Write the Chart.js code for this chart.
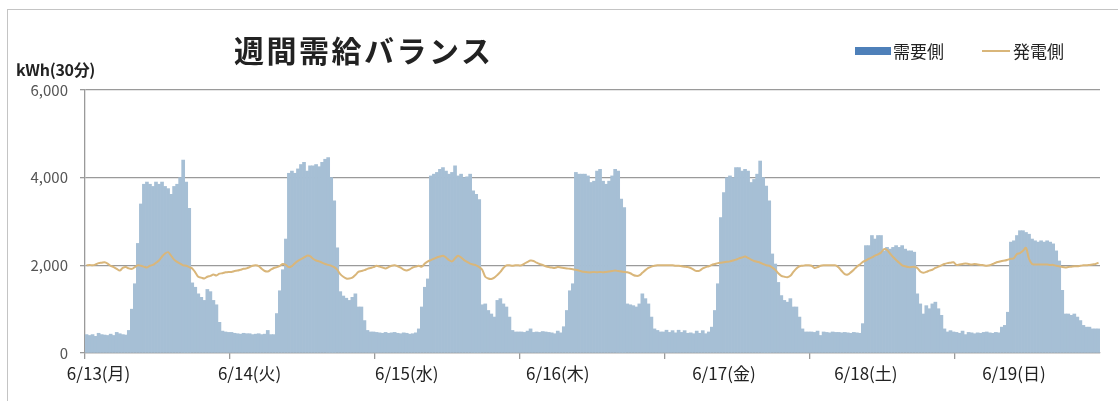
<!DOCTYPE html>
<html lang="ja">
<head>
  <meta charset="UTF-8">
  <title>週間需給バランス</title>
  <script src="https://cdn.jsdelivr.net/npm/chart.js"></script>
  <style>
    html, body { margin: 0; padding: 0; background: #fff; }
    #wrap { position: relative; width: 1118px; height: 401px; overflow: hidden; font-family: 'Noto Sans CJK JP', sans-serif; color: #222; }
    #frame { position: absolute; left: 7px; top: 9px; width: 1130px; height: 420px; border-top: 1px solid #c4c4c4; border-left: 1px solid #c4c4c4; }
    #title { position: absolute; left: 234px; top: 29px; font-size: 30px; font-weight: bold; letter-spacing: 2.5px; line-height: 40px; }
    #unit { position: absolute; left: 16px; top: 59px; font-size: 16px; font-weight: bold; line-height: 20px; letter-spacing: -0.3px; }
    #legend { position: absolute; left: 855px; top: 40px; font-size: 17px; line-height: 22px; display: flex; align-items: center; }
    #legend .box { display: inline-block; width: 36px; height: 8px; background: #4e80b9; margin-right: 2px; }
    #legend .line { display: inline-block; width: 28px; height: 2px; background: #d9b67a; margin-left: 38px; margin-right: 3px; }
    canvas { position: absolute; left: 0; top: 0; }
  </style>
</head>
<body>
  <div id="wrap">
    <div id="frame"></div>
    <canvas id="myChart" width="1118" height="401"></canvas>
    <div id="title">週間需給バランス</div>
    <div id="unit">kWh(30分)</div>
    <div id="legend"><span class="box"></span>需要側<span class="line"></span>発電側</div>
  </div>

  <script>
    // days shown on the x axis, and the 30-minute slot under which each day name sits
    const dayNames = ['6/13(月)', '6/14(火)', '6/15(水)', '6/16(木)', '6/17(金)', '6/18(土)', '6/19(日)'];
    const dayLabelSlots = [4, 54, 106, 156, 211, 258, 307];
    const yTicks = [0, 2000, 4000, 6000];

    // demand side (需要側), 48 half-hour values per day
    const demand0613 = [420,400,420,380,450,420,410,400,430,400,470,440,420,410,515,1000,1580,2500,3400,3850,3900,3850,3800,3900,3850,3900,3800,3750,3620,3800,3850,4000,4400,3900,3300,1600,1500,1350,1270,1200,1450,1400,1200,1100,700,500,480,470];
    const demand0614 = [470,450,440,430,450,440,440,420,430,440,420,430,515,420,420,900,1420,1900,2600,4100,4150,4100,4200,4300,4350,4150,4270,4270,4300,4250,4350,4420,4460,4000,3470,2400,1400,1300,1250,1200,1270,1350,1050,1050,740,515,480,480];
    const demand0615 = [470,460,450,470,450,460,470,450,440,460,450,430,440,460,550,1050,1500,1690,4040,4080,4120,4190,4230,4150,4080,4120,4270,4040,4080,4000,4020,4080,3700,3620,3500,1100,1120,970,890,820,1200,1240,1120,1050,820,515,480,480];
    const demand0616 = [480,470,500,550,470,480,470,490,480,470,460,440,500,460,600,970,1420,1580,4120,4080,4080,4080,4040,3890,3920,4150,4190,3920,3850,3920,4040,4190,4150,3510,3320,1120,1100,1080,1050,1120,1350,1240,1120,820,550,515,480,480];
    const demand0617 = [520,470,510,460,520,470,510,450,460,440,500,450,510,440,480,590,970,1580,3090,3660,4000,4040,4000,4230,4230,4150,4190,4150,3890,3960,4080,4380,4000,3810,3470,2260,2030,1610,1310,1200,1160,1240,1050,1050,820,550,480,480];
    const demand0618 = [480,470,500,400,480,470,460,480,470,470,460,470,460,450,470,460,450,670,2450,2450,2680,2600,2680,2680,2330,2410,2370,2410,2450,2410,2450,2370,2330,2330,2300,1350,1120,890,1080,1010,1120,1160,1010,860,550,480,510,480];
    const demand0619 = [470,450,500,420,470,460,440,460,450,470,480,460,450,470,460,590,630,930,2530,2560,2680,2790,2790,2750,2710,2600,2560,2530,2560,2530,2560,2530,2490,2330,2100,1430,890,890,860,890,820,740,630,590,590,550,550,550];

    // generation side (発電側), 48 half-hour values per day
    const supply0613 = [2000,2010,2000,2020,2050,2060,2070,2040,1990,1960,1920,1880,1940,1960,1930,1920,1960,2000,1990,1970,1950,1990,2010,2060,2110,2200,2270,2300,2220,2130,2080,2040,2000,1990,1960,1930,1840,1740,1720,1700,1740,1760,1790,1770,1810,1820,1840,1850];
    const supply0614 = [1850,1870,1880,1900,1920,1930,1960,1990,2000,1980,1920,1870,1860,1900,1940,1960,1990,2030,2010,1960,1980,2050,2100,2140,2180,2220,2210,2150,2110,2090,2060,2030,2010,1990,1960,1900,1800,1740,1700,1700,1720,1780,1850,1870,1890,1920,1940,1960];
    const supply0615 = [1990,1970,1950,1930,1960,1990,2000,1980,1950,1900,1880,1910,1950,1970,1990,1970,2040,2090,2120,2150,2180,2200,2220,2180,2120,2090,2160,2220,2180,2120,2080,2040,2020,2000,1960,1900,1740,1700,1690,1720,1780,1850,1940,2000,2000,1990,2000,2000];
    const supply0616 = [2000,2040,2080,2110,2100,2060,2030,2010,1980,1960,1950,1940,1960,1950,1940,1930,1920,1910,1900,1880,1860,1850,1840,1840,1850,1840,1850,1840,1850,1860,1870,1880,1870,1860,1850,1840,1820,1780,1760,1770,1830,1890,1940,1970,1990,2000,2000,2000];
    const supply0617 = [2000,2000,2000,1990,1990,1980,1970,1960,1940,1900,1870,1880,1930,1960,1980,2010,2030,2050,2060,2070,2080,2090,2110,2130,2160,2180,2200,2170,2130,2100,2080,2060,2030,2000,1990,1950,1900,1820,1760,1740,1730,1760,1850,1930,1980,1990,2000,2000];
    const supply0618 = [1990,1940,1960,1990,2000,2000,2000,2000,2000,1950,1870,1800,1790,1840,1900,1970,2020,2080,2110,2150,2180,2220,2250,2290,2370,2350,2270,2190,2120,2060,2000,1980,1960,1960,1970,1940,1860,1830,1850,1880,1900,1940,1970,2000,2030,2050,2060,2070];
    const supply0619 = [2010,2020,2030,2040,2030,2020,2030,2020,2010,2000,1990,2000,2030,2060,2080,2100,2110,2130,2150,2160,2260,2280,2330,2400,2150,2030,2020,2020,2020,2020,2020,2010,2010,1990,1980,1960,1950,1960,1970,1980,1980,1990,2000,2000,2010,2020,2030,2060];

    const demand = [].concat(demand0613, demand0614, demand0615, demand0616, demand0617, demand0618, demand0619);
    const supply = [].concat(supply0613, supply0614, supply0615, supply0616, supply0617, supply0618, supply0619);

    const slots = [];
    dayNames.forEach(day => {
      for (let h = 0; h < 48; h++) {
        const hh = String(Math.floor(h / 2)).padStart(2, '0');
        slots.push(day + ' ' + hh + (h % 2 ? ':30' : ':00'));
      }
    });

    const gridGray = '#9a9a9a';
    const jpFont = "'Noto Sans CJK JP', sans-serif";

    const ctx = document.getElementById('myChart').getContext('2d');
    const myChart = new Chart(ctx, {
      data: {
        labels: slots,
        datasets: [{
          type: 'line',
          label: '発電側',
          data: supply,
          borderColor: '#d9b67a',
          borderWidth: 2,
          pointRadius: 0,
          tension: 0.3,
          order: 1
        },
        {
          type: 'bar',
          label: '需要側',
          data: demand,
          backgroundColor: '#a6bfd5',
          barPercentage: 1,
          categoryPercentage: 1,
          order: 2
        }]
      },
      options: {
        responsive: false,
        animation: false,
        layout: { padding: { top: 90, right: 18, bottom: 0, left: 0 } },
        plugins: {
          legend: { display: false },
          tooltip: { enabled: false }
        },
        scales: {
          x: {
            afterFit: scale => { scale.height = 48; },
            border: { display: true, color: gridGray, width: 1.3 },
            grid: {
              drawOnChartArea: false,
              tickLength: 6,
              lineWidth: 1.3,
              color: c => (c.index % 48 === 0 ? gridGray : 'rgba(0,0,0,0)')
            },
            ticks: {
              autoSkip: false,
              maxRotation: 0,
              minRotation: 0,
              padding: 4,
              color: '#222',
              font: { family: jpFont, size: 17 },
              callback: (value, index) => {
                const k = dayLabelSlots.indexOf(index);
                return k >= 0 ? dayNames[k] : '';
              }
            }
          },
          y: {
            min: 0,
            max: 6000,
            afterFit: scale => { scale.width = 85; },
            afterBuildTicks: scale => { scale.ticks = yTicks.map(v => ({ value: v })); },
            border: { display: true, color: gridGray, width: 1.3 },
            grid: { color: gridGray, lineWidth: 1.3, tickLength: 5 },
            ticks: {
              padding: 12,
              color: '#555',
              font: { family: jpFont, size: 15 },
              callback: v => v.toLocaleString('en-US')
            }
          }
        }
      }
    });
  </script>
</body>
</html>
